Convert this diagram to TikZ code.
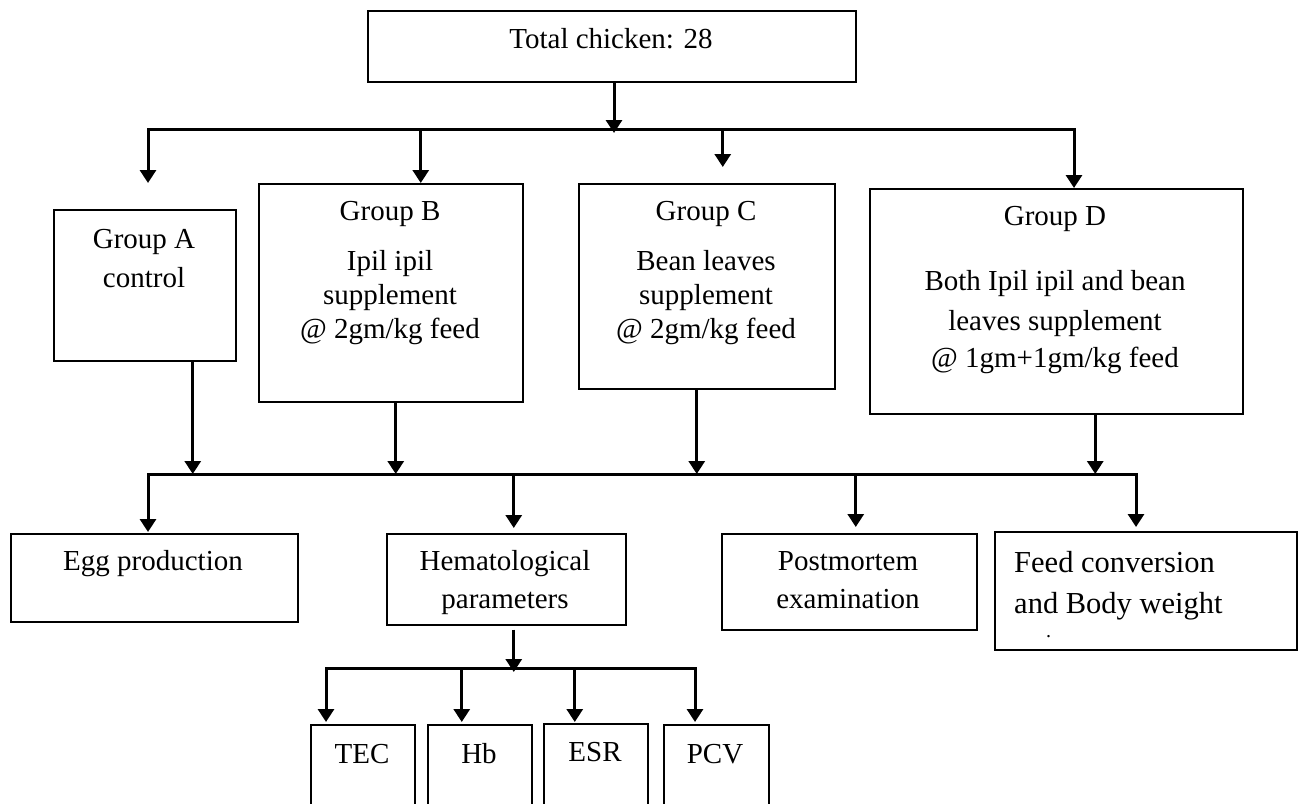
\documentclass[tikz,border=0pt]{standalone}
\usepackage{fontspec}
\setmainfont{Liberation Serif}
\usetikzlibrary{arrows.meta}

\tikzset{
  box/.style={draw, line width=1.5pt, anchor=north west, inner sep=0pt},
  lbl/.style={align=center, anchor=base, inner sep=0pt, font=\fontsize{29}{34}\selectfont},
  bus/.style={line width=3pt, line cap=rect},
  arr/.style={line width=3pt, -{Triangle[width=16pt,length=13pt]}},
}

\begin{document}
\begin{tikzpicture}[x=1pt,y=-1pt]
\useasboundingbox (0,0) rectangle (1305,803);
\clip (0,0) rectangle (1305,803);

% Boxes
\node[box, minimum width=488pt, minimum height=71pt] (top) at (367,10) {};
\node[box, minimum width=182pt, minimum height=151pt] (ga) at (53,209) {};
\node[box, minimum width=264pt, minimum height=218pt] (gb) at (258,183) {};
\node[box, minimum width=256pt, minimum height=205pt] (gc) at (578,183) {};
\node[box, minimum width=373pt, minimum height=225pt] (gd) at (869,188) {};
\node[box, minimum width=287pt, minimum height=88pt] (egg) at (10,533) {};
\node[box, minimum width=239pt, minimum height=91pt] (hema) at (386,533) {};
\node[box, minimum width=255pt, minimum height=96pt] (post) at (721,533) {};
\node[box, minimum width=302pt, minimum height=118pt] (feed) at (994,531) {};
\node[box, minimum width=104pt, minimum height=100pt] (tec) at (310,724) {};
\node[box, minimum width=104pt, minimum height=100pt] (hb) at (427,724) {};
\node[box, minimum width=104pt, minimum height=100pt] (esr) at (543,723) {};
\node[box, minimum width=105pt, minimum height=100pt] (pcv) at (663,724) {};

% Texts (base = last line)
\node[lbl] (topT) at (611,48) {Total chicken: 28};
\node[lbl] (gaT) at (144,287) {Group A\\[5pt]control};
\node[lbl] (gbT) at (390,338) {Group B\\[16pt]Ipil ipil\\supplement\\@ 2gm/kg feed};
\node[lbl] (gcT) at (706,338) {Group C\\[16pt]Bean leaves\\supplement\\@ 2gm/kg feed};
\node[lbl] (gdT) at (1055,367) {Group D\\[31pt]Both Ipil ipil and bean\\[6pt]leaves supplement\\[3pt]@ 1gm+1gm/kg feed};
\node[lbl] (eggT) at (153,570) {Egg production};
\node[lbl] (hemaT) at (505,608) {Hematological\\[4pt]parameters};
\node[lbl] (postT) at (848,608) {Postmortem\\[4pt]examination};
\node[lbl, align=left, anchor=base west, font=\fontsize{30.5}{34}\selectfont] (feedT) at (1014,637)
  {Feed conversion\\[7pt]and Body weight\\[-10pt]\hspace*{32pt}{\fontsize{20}{20}\selectfont .}};
\node[lbl] (tecT) at (362,763) {TEC};
\node[lbl] (hbT) at (479,763) {Hb};
\node[lbl] (esrT) at (595,761) {ESR};
\node[lbl] (pcvT) at (715,763) {PCV};

% First split
\coordinate (j0) at (614,129);
\coordinate (b1l) at (148,129);
\coordinate (b1r) at (1074,129);
\draw[arr] (top.south -| j0) -- ([yshift=-4pt]j0);
\draw[bus] (b1l) -- (b1r);
\draw[arr] (b1l) -- ([yshift=26pt]ga.north -| b1l);
\draw[arr] ([xshift=30pt]gb.north |- b1l) -- ([xshift=30pt]gb.north);
\draw[arr] ([xshift=16pt]gc.north |- b1l) -- ([xshift=16pt,yshift=16pt]gc.north);
\draw[arr] (b1r) -- (gd.north -| b1r);

% Groups to outcomes
\coordinate (b2l) at (148,474);
\coordinate (b2r) at (1136,474);
\draw[bus] (b2l) -- (b2r);
\draw[arr] ([xshift=48pt]ga.south) -- ([xshift=48pt]ga.south |- b2l);
\draw[arr] ([xshift=5pt]gb.south) -- ([xshift=5pt]gb.south |- b2l);
\draw[arr] ([xshift=-10pt]gc.south) -- ([xshift=-10pt]gc.south |- b2l);
\draw[arr] ([xshift=39pt]gd.south) -- ([xshift=39pt]gd.south |- b2l);
\draw[arr] (b2l) -- ([yshift=1pt]egg.north -| b2l);
\draw[arr] ([xshift=7.5pt]hema.north |- b2l) -- ([xshift=7.5pt,yshift=5pt]hema.north);
\draw[arr] ([xshift=6.5pt]post.north |- b2l) -- ([xshift=6.5pt,yshift=6pt]post.north);
\draw[arr] (b2r) -- ([yshift=4pt]feed.north -| b2r);

% Hematological parameters
\coordinate (b3l) at (326,668);
\coordinate (b3r) at (695,668);
\draw[arr] ([xshift=7.5pt,yshift=-4pt]hema.south) -- ([xshift=7.5pt,yshift=-4pt]hema.south |- b3l);
\draw[bus] (b3l) -- (b3r);
\draw[arr] (b3l) -- ([yshift=2pt]tec.north -| b3l);
\draw[arr] ([xshift=-18pt]hb.north |- b3l) -- ([xshift=-18pt,yshift=2pt]hb.north);
\draw[arr] ([xshift=-21pt]esr.north |- b3l) -- ([xshift=-21pt,yshift=1pt]esr.north);
\draw[arr] (b3r) -- ([yshift=2pt]pcv.north -| b3r);
\end{tikzpicture}
\end{document}
